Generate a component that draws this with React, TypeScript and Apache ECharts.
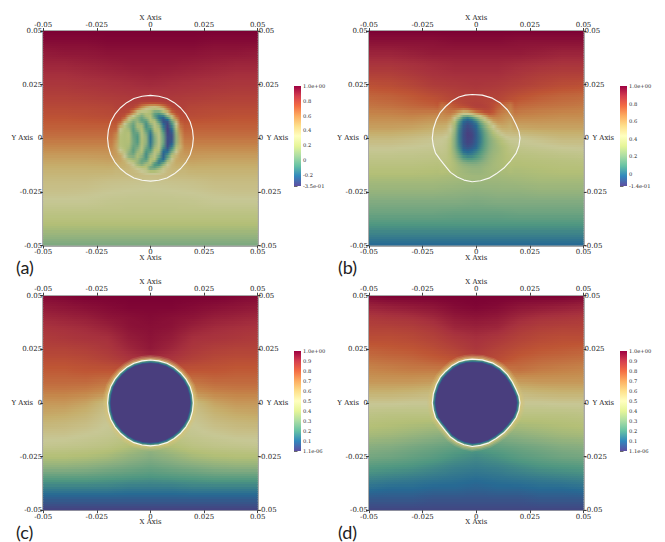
import React, { useEffect, useRef } from "react";
import * as echarts from "echarts";

const FONT = "DejaVu Serif";

// Spectral colour scale, bottom to top, as on the colour bars
const spectral = ["#5e4fa2", "#3288bd", "#66c2a5", "#abdda4", "#e6f598", "#ffffbf", "#fee08b", "#fdae61", "#f46d43", "#d53e4f", "#9e0142"];

// Axis ticks
const tickValues = [-0.05, -0.025, 0, 0.025, 0.05];
const tickLabels = ["-0.05", "-0.025", "0", "0.025", "0.05"];

// Coarse field nodes
const coarseX = [-0.05, -0.04, -0.03, -0.02, -0.01, 0, 0.01, 0.02, 0.03, 0.04, 0.05];
const coarseY = [0.05, 0.045, 0.04, 0.035, 0.03, 0.025, 0.02, 0.015, 0.01, 0.005, 0, -0.005, -0.01, -0.015, -0.02, -0.025, -0.03, -0.035, -0.04, -0.045, -0.05];
// Fine nodes around the drop, panels (a) and (b)
const fineX = [-0.018, -0.016, -0.014, -0.012, -0.01, -0.008, -0.006, -0.004, -0.002, 0, 0.002, 0.004, 0.006, 0.008, 0.01, 0.012, 0.014, 0.016, 0.018];
const fineY = [0.018, 0.016, 0.014, 0.012, 0.01, 0.008, 0.006, 0.004, 0.002, 0, -0.002, -0.004, -0.006, -0.008, -0.01, -0.012, -0.014, -0.016, -0.018];

const coarseA = [
  [1, 1, 1, 1, 1, 1, 1, 1, 1, 1, 1],
  [0.97, 0.97, 0.97, 0.98, 0.98, 0.98, 0.98, 0.98, 0.97, 0.97, 0.97],
  [0.93, 0.94, 0.94, 0.95, 0.95, 0.95, 0.95, 0.95, 0.94, 0.94, 0.93],
  [0.9, 0.9, 0.91, 0.92, 0.93, 0.93, 0.93, 0.92, 0.91, 0.9, 0.9],
  [0.87, 0.87, 0.88, 0.89, 0.9, 0.91, 0.9, 0.89, 0.88, 0.87, 0.87],
  [0.84, 0.84, 0.85, 0.86, 0.87, 0.88, 0.87, 0.86, 0.85, 0.84, 0.84],
  [0.81, 0.81, 0.82, 0.83, 0.84, 0.84, 0.84, 0.83, 0.82, 0.81, 0.81],
  [0.78, 0.78, 0.78, 0.79, 0.8, 0.8, 0.8, 0.79, 0.78, 0.78, 0.78],
  [0.74, 0.74, 0.75, 0.76, 0.77, 0.77, 0.77, 0.76, 0.75, 0.74, 0.74],
  [0.7, 0.7, 0.7, 0.7, 0.71, 0.71, 0.71, 0.7, 0.7, 0.7, 0.7],
  [0.65, 0.65, 0.65, 0.65, 0.65, 0.65, 0.65, 0.65, 0.65, 0.65, 0.65],
  [0.58, 0.58, 0.58, 0.58, 0.59, 0.59, 0.59, 0.58, 0.58, 0.58, 0.58],
  [0.5, 0.5, 0.5, 0.51, 0.51, 0.51, 0.51, 0.51, 0.5, 0.5, 0.5],
  [0.44, 0.44, 0.44, 0.44, 0.43, 0.42, 0.43, 0.44, 0.44, 0.44, 0.44],
  [0.39, 0.39, 0.39, 0.37, 0.36, 0.35, 0.36, 0.37, 0.39, 0.39, 0.39],
  [0.36, 0.36, 0.35, 0.33, 0.32, 0.31, 0.32, 0.33, 0.35, 0.36, 0.36],
  [0.31, 0.31, 0.31, 0.29, 0.28, 0.28, 0.28, 0.29, 0.31, 0.31, 0.31],
  [0.25, 0.25, 0.25, 0.25, 0.25, 0.25, 0.25, 0.25, 0.25, 0.25, 0.25],
  [0.19, 0.19, 0.19, 0.19, 0.19, 0.19, 0.19, 0.19, 0.19, 0.19, 0.19],
  [0.11, 0.11, 0.11, 0.11, 0.11, 0.11, 0.11, 0.11, 0.11, 0.11, 0.11],
  [0.03, 0.03, 0.03, 0.03, 0.03, 0.03, 0.03, 0.03, 0.03, 0.03, 0.03],
];

const fineA = [
  [0.82, 0.82, 0.82, 0.83, 0.83, 0.83, 0.83, 0.83, 0.83, 0.83, 0.83, 0.83, 0.83, 0.83, 0.83, 0.83, 0.82, 0.82, 0.82],
  [0.81, 0.81, 0.81, 0.81, 0.81, 0.81, 0.8, 0.74, 0.72, 0.7, 0.7, 0.72, 0.76, 0.8, 0.81, 0.81, 0.81, 0.81, 0.81],
  [0.8, 0.8, 0.8, 0.8, 0.8, 0.78, 0.7, 0.55, 0.4, 0.3, 0.28, 0.35, 0.5, 0.68, 0.78, 0.8, 0.8, 0.8, 0.8],
  [0.78, 0.78, 0.78, 0.78, 0.75, 0.58, 0.32, 0.15, 0.2, 0.15, -0.02, -0.05, 0.1, 0.4, 0.68, 0.76, 0.78, 0.78, 0.78],
  [0.77, 0.77, 0.77, 0.72, 0.45, 0.25, 0.08, 0, 0.15, 0.2, -0.05, -0.2, -0.22, -0.02, 0.3, 0.65, 0.76, 0.77, 0.77],
  [0.75, 0.75, 0.72, 0.5, 0.2, 0.05, 0.1, -0.05, -0.05, 0.2, 0.2, -0.1, -0.3, -0.28, 0, 0.45, 0.72, 0.75, 0.75],
  [0.72, 0.72, 0.55, 0.25, 0.08, -0.02, 0.18, 0.15, -0.12, 0.05, 0.25, 0.1, -0.2, -0.33, -0.12, 0.28, 0.66, 0.72, 0.72],
  [0.7, 0.68, 0.3, 0.18, 0.15, -0.06, 0.08, 0.2, -0.05, -0.12, 0.2, 0.2, -0.12, -0.35, -0.22, 0.15, 0.6, 0.7, 0.7],
  [0.67, 0.6, 0.22, 0.18, 0.2, -0.02, -0.05, 0.22, 0.05, -0.18, 0.1, 0.25, -0.03, -0.33, -0.28, 0.1, 0.56, 0.67, 0.67],
  [0.65, 0.58, 0.2, 0.18, 0.2, 0, -0.08, 0.2, 0.1, -0.2, 0.05, 0.25, 0, -0.3, -0.3, 0.08, 0.52, 0.65, 0.65],
  [0.62, 0.52, 0.2, 0.18, 0.18, 0.02, -0.06, 0.18, 0.08, -0.18, 0.05, 0.25, 0, -0.32, -0.25, 0.1, 0.5, 0.62, 0.62],
  [0.59, 0.5, 0.22, 0.18, 0.15, -0.02, 0.02, 0.22, 0.02, -0.15, 0.12, 0.25, -0.08, -0.3, -0.15, 0.18, 0.45, 0.59, 0.59],
  [0.56, 0.52, 0.35, 0.22, 0.1, -0.05, 0.1, 0.2, -0.08, -0.05, 0.22, 0.18, -0.2, -0.22, 0, 0.3, 0.5, 0.56, 0.56],
  [0.53, 0.53, 0.48, 0.3, 0.05, 0.02, 0.18, 0.1, -0.12, 0.1, 0.25, 0.05, -0.25, -0.1, 0.18, 0.42, 0.52, 0.53, 0.53],
  [0.5, 0.5, 0.5, 0.42, 0.22, 0.15, 0.12, -0.02, -0.05, 0.2, 0.18, -0.15, -0.2, 0.08, 0.35, 0.48, 0.5, 0.5, 0.5],
  [0.47, 0.47, 0.47, 0.46, 0.4, 0.3, 0.1, 0.02, 0.15, 0.18, -0.1, -0.15, 0.05, 0.3, 0.42, 0.47, 0.47, 0.47, 0.47],
  [0.44, 0.44, 0.44, 0.44, 0.43, 0.38, 0.3, 0.25, 0.22, -0.02, -0.02, 0.1, 0.28, 0.38, 0.43, 0.44, 0.44, 0.44, 0.44],
  [0.41, 0.41, 0.41, 0.41, 0.41, 0.41, 0.4, 0.36, 0.3, 0.25, 0.25, 0.3, 0.36, 0.4, 0.41, 0.41, 0.41, 0.41, 0.41],
  [0.39, 0.39, 0.39, 0.39, 0.39, 0.39, 0.39, 0.39, 0.39, 0.39, 0.39, 0.39, 0.39, 0.39, 0.39, 0.39, 0.39, 0.39, 0.39],
];

const coarseB = [
  [1, 1, 1, 1, 1, 1, 1, 1, 1, 1, 1],
  [0.96, 0.96, 0.96, 0.96, 0.97, 0.97, 0.97, 0.96, 0.96, 0.96, 0.96],
  [0.92, 0.92, 0.93, 0.94, 0.94, 0.94, 0.94, 0.94, 0.93, 0.92, 0.92],
  [0.88, 0.88, 0.89, 0.9, 0.91, 0.91, 0.91, 0.9, 0.89, 0.88, 0.88],
  [0.84, 0.84, 0.86, 0.88, 0.89, 0.89, 0.89, 0.87, 0.85, 0.84, 0.84],
  [0.79, 0.8, 0.82, 0.85, 0.86, 0.87, 0.86, 0.84, 0.82, 0.8, 0.79],
  [0.74, 0.75, 0.77, 0.8, 0.83, 0.84, 0.83, 0.79, 0.76, 0.74, 0.73],
  [0.7, 0.71, 0.73, 0.75, 0.8, 0.83, 0.8, 0.73, 0.71, 0.7, 0.69],
  [0.65, 0.65, 0.66, 0.64, 0.62, 0.62, 0.68, 0.66, 0.65, 0.64, 0.64],
  [0.59, 0.59, 0.58, 0.55, 0.5, 0.5, 0.55, 0.57, 0.58, 0.58, 0.58],
  [0.5, 0.5, 0.48, 0.45, 0.42, 0.42, 0.42, 0.44, 0.47, 0.5, 0.5],
  [0.43, 0.43, 0.42, 0.41, 0.38, 0.38, 0.38, 0.38, 0.4, 0.42, 0.43],
  [0.37, 0.37, 0.37, 0.36, 0.34, 0.34, 0.33, 0.33, 0.34, 0.35, 0.36],
  [0.33, 0.33, 0.33, 0.32, 0.3, 0.28, 0.29, 0.3, 0.31, 0.32, 0.32],
  [0.28, 0.28, 0.28, 0.28, 0.27, 0.26, 0.26, 0.27, 0.28, 0.28, 0.28],
  [0.24, 0.24, 0.24, 0.24, 0.23, 0.22, 0.23, 0.23, 0.24, 0.24, 0.24],
  [0.19, 0.19, 0.19, 0.19, 0.19, 0.18, 0.19, 0.19, 0.19, 0.19, 0.19],
  [0.15, 0.15, 0.15, 0.15, 0.14, 0.14, 0.14, 0.15, 0.15, 0.15, 0.15],
  [0.09, 0.09, 0.09, 0.09, 0.09, 0.09, 0.09, 0.09, 0.09, 0.09, 0.09],
  [0.03, 0.03, 0.03, 0.03, 0.03, 0.03, 0.03, 0.03, 0.03, 0.03, 0.03],
  [-0.03, -0.03, -0.03, -0.03, -0.03, -0.03, -0.03, -0.03, -0.03, -0.03, -0.03],
];

const fineB = [
  [0.72, 0.74, 0.76, 0.78, 0.8, 0.81, 0.82, 0.83, 0.83, 0.83, 0.83, 0.82, 0.81, 0.8, 0.78, 0.76, 0.74, 0.72, 0.7],
  [0.7, 0.72, 0.74, 0.76, 0.78, 0.8, 0.82, 0.83, 0.84, 0.84, 0.84, 0.83, 0.82, 0.8, 0.77, 0.74, 0.72, 0.7, 0.68],
  [0.68, 0.69, 0.71, 0.73, 0.75, 0.76, 0.76, 0.78, 0.81, 0.83, 0.83, 0.83, 0.82, 0.79, 0.75, 0.72, 0.7, 0.68, 0.66],
  [0.65, 0.66, 0.68, 0.69, 0.66, 0.58, 0.5, 0.52, 0.6, 0.68, 0.73, 0.78, 0.79, 0.76, 0.71, 0.68, 0.66, 0.65, 0.64],
  [0.62, 0.63, 0.64, 0.62, 0.5, 0.3, 0.1, 0.05, 0.12, 0.25, 0.38, 0.52, 0.66, 0.68, 0.67, 0.65, 0.63, 0.62, 0.6],
  [0.59, 0.6, 0.6, 0.55, 0.33, 0.12, -0.02, -0.06, -0.03, 0.05, 0.2, 0.33, 0.48, 0.6, 0.63, 0.62, 0.6, 0.58, 0.57],
  [0.56, 0.56, 0.55, 0.48, 0.28, 0.06, -0.06, -0.1, -0.07, -0.02, 0.1, 0.22, 0.34, 0.46, 0.56, 0.58, 0.57, 0.55, 0.54],
  [0.52, 0.52, 0.5, 0.42, 0.25, 0.03, -0.08, -0.12, -0.1, -0.05, 0.05, 0.16, 0.26, 0.36, 0.46, 0.52, 0.53, 0.52, 0.51],
  [0.49, 0.48, 0.46, 0.38, 0.22, 0.02, -0.09, -0.14, -0.12, -0.06, 0.03, 0.13, 0.22, 0.3, 0.37, 0.44, 0.48, 0.48, 0.48],
  [0.45, 0.44, 0.42, 0.35, 0.2, 0.02, -0.09, -0.13, -0.12, -0.06, 0.02, 0.12, 0.2, 0.26, 0.31, 0.36, 0.42, 0.44, 0.45],
  [0.43, 0.42, 0.4, 0.33, 0.2, 0.03, -0.08, -0.12, -0.1, -0.05, 0.03, 0.12, 0.19, 0.24, 0.28, 0.32, 0.36, 0.4, 0.42],
  [0.41, 0.41, 0.39, 0.32, 0.2, 0.05, -0.06, -0.09, -0.07, -0.03, 0.05, 0.13, 0.2, 0.24, 0.27, 0.3, 0.33, 0.37, 0.4],
  [0.4, 0.4, 0.38, 0.32, 0.22, 0.09, -0.02, -0.04, -0.02, 0.02, 0.08, 0.15, 0.21, 0.25, 0.27, 0.3, 0.33, 0.36, 0.38],
  [0.38, 0.38, 0.37, 0.32, 0.25, 0.15, 0.05, 0.02, 0.03, 0.07, 0.12, 0.18, 0.23, 0.26, 0.28, 0.3, 0.32, 0.34, 0.36],
  [0.37, 0.37, 0.36, 0.33, 0.28, 0.22, 0.15, 0.12, 0.12, 0.14, 0.17, 0.21, 0.25, 0.27, 0.29, 0.3, 0.32, 0.33, 0.34],
  [0.35, 0.35, 0.34, 0.33, 0.3, 0.26, 0.23, 0.21, 0.2, 0.2, 0.22, 0.24, 0.26, 0.28, 0.29, 0.3, 0.31, 0.32, 0.33],
  [0.33, 0.33, 0.33, 0.32, 0.3, 0.28, 0.26, 0.25, 0.24, 0.24, 0.24, 0.26, 0.27, 0.28, 0.29, 0.3, 0.3, 0.31, 0.31],
  [0.32, 0.32, 0.31, 0.31, 0.3, 0.28, 0.27, 0.26, 0.25, 0.25, 0.25, 0.26, 0.27, 0.28, 0.28, 0.29, 0.29, 0.3, 0.3],
  [0.3, 0.3, 0.3, 0.3, 0.29, 0.28, 0.27, 0.26, 0.25, 0.25, 0.25, 0.26, 0.26, 0.27, 0.27, 0.28, 0.28, 0.28, 0.29],
];

const coarseC = [
  [0.98, 0.99, 1, 1, 1, 1, 1, 1, 1, 0.99, 0.98],
  [0.95, 0.96, 0.97, 0.98, 0.99, 0.99, 0.99, 0.98, 0.97, 0.96, 0.95],
  [0.92, 0.93, 0.94, 0.96, 0.97, 0.98, 0.97, 0.96, 0.94, 0.93, 0.92],
  [0.89, 0.9, 0.91, 0.93, 0.96, 0.97, 0.96, 0.93, 0.91, 0.9, 0.89],
  [0.87, 0.88, 0.89, 0.9, 0.94, 0.96, 0.94, 0.9, 0.89, 0.88, 0.87],
  [0.85, 0.85, 0.86, 0.88, 0.92, 0.95, 0.92, 0.88, 0.86, 0.85, 0.85],
  [0.82, 0.82, 0.83, 0.85, 0.88, 0.9, 0.88, 0.85, 0.83, 0.82, 0.82],
  [0.79, 0.79, 0.8, 0.8, 0.8, 0.8, 0.8, 0.8, 0.8, 0.79, 0.79],
  [0.76, 0.76, 0.76, 0.74, 0.74, 0.74, 0.74, 0.74, 0.76, 0.76, 0.76],
  [0.72, 0.72, 0.71, 0.68, 0.68, 0.68, 0.68, 0.68, 0.71, 0.72, 0.72],
  [0.66, 0.66, 0.63, 0.55, 0.55, 0.55, 0.55, 0.55, 0.63, 0.66, 0.66],
  [0.62, 0.61, 0.58, 0.52, 0.52, 0.52, 0.52, 0.52, 0.58, 0.61, 0.62],
  [0.57, 0.56, 0.54, 0.5, 0.5, 0.5, 0.5, 0.5, 0.54, 0.56, 0.57],
  [0.52, 0.52, 0.5, 0.48, 0.45, 0.45, 0.45, 0.48, 0.5, 0.52, 0.52],
  [0.48, 0.47, 0.46, 0.44, 0.4, 0.35, 0.4, 0.44, 0.46, 0.47, 0.48],
  [0.4, 0.4, 0.39, 0.37, 0.33, 0.3, 0.33, 0.37, 0.39, 0.4, 0.4],
  [0.32, 0.32, 0.31, 0.29, 0.27, 0.25, 0.27, 0.29, 0.31, 0.32, 0.32],
  [0.22, 0.22, 0.22, 0.21, 0.2, 0.19, 0.2, 0.21, 0.22, 0.22, 0.22],
  [0.14, 0.14, 0.14, 0.14, 0.13, 0.13, 0.13, 0.14, 0.14, 0.14, 0.14],
  [0.07, 0.07, 0.07, 0.07, 0.07, 0.07, 0.07, 0.07, 0.07, 0.07, 0.07],
  [0.01, 0.01, 0.01, 0.01, 0.01, 0.01, 0.01, 0.01, 0.01, 0.01, 0.01],
];

const coarseD = [
  [0.99, 1, 1, 1, 1, 1, 1, 1, 1, 1, 0.99],
  [0.93, 0.94, 0.95, 0.96, 0.98, 0.99, 0.98, 0.96, 0.95, 0.94, 0.93],
  [0.88, 0.89, 0.9, 0.92, 0.95, 0.96, 0.95, 0.92, 0.9, 0.89, 0.88],
  [0.85, 0.85, 0.86, 0.88, 0.92, 0.93, 0.92, 0.88, 0.86, 0.85, 0.85],
  [0.82, 0.82, 0.83, 0.85, 0.88, 0.9, 0.88, 0.85, 0.83, 0.82, 0.82],
  [0.78, 0.79, 0.8, 0.82, 0.85, 0.88, 0.85, 0.82, 0.8, 0.79, 0.78],
  [0.74, 0.75, 0.76, 0.78, 0.8, 0.85, 0.82, 0.78, 0.76, 0.75, 0.74],
  [0.7, 0.71, 0.72, 0.72, 0.72, 0.72, 0.72, 0.74, 0.72, 0.71, 0.7],
  [0.66, 0.66, 0.66, 0.65, 0.65, 0.65, 0.65, 0.65, 0.66, 0.66, 0.66],
  [0.59, 0.59, 0.58, 0.56, 0.56, 0.56, 0.56, 0.56, 0.58, 0.59, 0.59],
  [0.51, 0.51, 0.5, 0.5, 0.5, 0.5, 0.5, 0.5, 0.5, 0.51, 0.51],
  [0.45, 0.44, 0.44, 0.44, 0.44, 0.44, 0.44, 0.44, 0.44, 0.44, 0.45],
  [0.41, 0.4, 0.39, 0.38, 0.38, 0.38, 0.38, 0.38, 0.39, 0.4, 0.41],
  [0.37, 0.36, 0.34, 0.32, 0.3, 0.3, 0.3, 0.32, 0.34, 0.36, 0.37],
  [0.31, 0.3, 0.28, 0.26, 0.24, 0.22, 0.24, 0.26, 0.28, 0.3, 0.31],
  [0.27, 0.26, 0.24, 0.22, 0.19, 0.17, 0.19, 0.22, 0.24, 0.26, 0.27],
  [0.21, 0.2, 0.19, 0.17, 0.15, 0.14, 0.15, 0.17, 0.19, 0.2, 0.21],
  [0.16, 0.15, 0.14, 0.13, 0.12, 0.11, 0.12, 0.13, 0.14, 0.15, 0.16],
  [0.11, 0.1, 0.1, 0.09, 0.09, 0.08, 0.09, 0.09, 0.1, 0.1, 0.11],
  [0.06, 0.06, 0.06, 0.05, 0.05, 0.05, 0.05, 0.05, 0.06, 0.06, 0.06],
  [0.02, 0.02, 0.02, 0.02, 0.02, 0.02, 0.02, 0.02, 0.02, 0.02, 0.02],
];

// White contours (x, y)
const roundContour = [
  [0.02, 0], [0.0196, 0.0039], [0.0185, 0.0077], [0.0166, 0.0111], [0.0141, 0.0141], [0.0111, 0.0166], [0.0077, 0.0185], [0.0039, 0.0196],
  [0, 0.02], [-0.0039, 0.0196], [-0.0077, 0.0185], [-0.0111, 0.0166], [-0.0141, 0.0141], [-0.0166, 0.0111], [-0.0185, 0.0077], [-0.0196, 0.0039],
  [-0.02, 0], [-0.0196, -0.0039], [-0.0185, -0.0077], [-0.0166, -0.0111], [-0.0141, -0.0141], [-0.0111, -0.0166], [-0.0077, -0.0185], [-0.0039, -0.0196],
  [0, -0.02], [0.0039, -0.0196], [0.0077, -0.0185], [0.0111, -0.0166], [0.0141, -0.0141], [0.0166, -0.0111], [0.0185, -0.0077], [0.0196, -0.0039],
  [0.02, 0],
];
const wobblyContour = [
  [0.0204, 0.0001], [0.0199, -0.0035], [0.0186, -0.0069], [0.016, -0.0105], [0.0129, -0.0139], [0.0093, -0.0166], [0.0059, -0.0186], [0.002, -0.0198],
  [-0.0019, -0.0203], [-0.0057, -0.0195], [-0.0089, -0.0181], [-0.012, -0.0159], [-0.0143, -0.0131], [-0.0168, -0.01], [-0.019, -0.0069], [-0.02, -0.0035],
  [-0.0205, 0], [-0.02, 0.0043], [-0.0186, 0.0086], [-0.0168, 0.012], [-0.0143, 0.0148], [-0.0112, 0.0175], [-0.0081, 0.0192], [-0.005, 0.0201],
  [-0.0019, 0.0204], [0.0028, 0.0201], [0.0075, 0.0187], [0.0113, 0.0164], [0.0145, 0.0133], [0.0168, 0.0099], [0.0186, 0.0063], [0.0199, 0.0032],
  [0.0204, 0.0001],
];

// Colour bars
const barTicksAB = [[1, 0.8, 0.6, 0.4, 0.2, 0, -0.2, -0.35], [1, 0.8, 0.6, 0.4, 0.2, 0, -0.14]];
const barLabelsAB = [["1.0e+00", "0.8", "0.6", "0.4", "0.2", "0", "-0.2", "-3.5e-01"], ["1.0e+00", "0.8", "0.6", "0.4", "0.2", "0", "-1.4e-01"]];
const barTicksCD = [1, 0.9, 0.8, 0.7, 0.6, 0.5, 0.4, 0.3, 0.2, 0.1, 0];
const barLabelsCD = ["1.0e+00", "0.9", "0.8", "0.7", "0.6", "0.5", "0.4", "0.3", "0.2", "0.1", "1.1e-06"];

const panelNames = ["(a)", "(b)", "(c)", "(d)"];
const panelMins = [-0.35, -0.14, 0, 0];
const panelContours = [roundContour, wobblyContour, roundContour, wobblyContour];
const panelCoarse = [coarseA, coarseB, coarseC, coarseD];
const panelFine = [fineA, fineB, null, null];
const panelDrop = [false, false, true, true];

// Layout
const plotLeft = [43.2, 369, 43.2, 369];
const plotTop = [31, 31, 295.7, 295.7];
const plotSize = 214.5;
const barLeft = [294, 620, 294, 620];
const barTop = [86, 86, 351, 351];
const nameX = [16, 338, 16, 338];
const nameY = [268, 268, 533, 533];

const DIM = 0.78;
const rgb = spectral.map((c) => [parseInt(c.slice(1, 3), 16), parseInt(c.slice(3, 5), 16), parseInt(c.slice(5, 7), 16)]);
function colourAt(t: number, k = DIM) {
  const s = Math.max(0, Math.min(0.9999, t)) * 10;
  const i = Math.floor(s);
  const f = s - i;
  const c = [0, 1, 2].map((n) => Math.round((rgb[i][n] + (rgb[i + 1][n] - rgb[i][n]) * f) * k));
  return `rgb(${c[0]},${c[1]},${c[2]})`;
}

function bilinear(xs: number[], ys: number[], g: number[][], x: number, y: number) {
  let i = 0;
  while (i < xs.length - 2 && x > xs[i + 1]) i++;
  let j = 0;
  while (j < ys.length - 2 && y < ys[j + 1]) j++;
  const u = Math.max(0, Math.min(1, (x - xs[i]) / (xs[i + 1] - xs[i])));
  const v = Math.max(0, Math.min(1, (y - ys[j]) / (ys[j + 1] - ys[j])));
  return (g[j][i] * (1 - u) + g[j][i + 1] * u) * (1 - v) + (g[j + 1][i] * (1 - u) + g[j + 1][i + 1] * u) * v;
}

function fieldValue(p: number, x: number, y: number) {
  const c = bilinear(coarseX, coarseY, panelCoarse[p], x, y);
  const f = panelFine[p];
  if (!f) return c;
  const w = Math.min(1, (0.018 - Math.abs(x)) / 0.002, (0.018 - Math.abs(y)) / 0.002);
  if (w <= 0) return c;
  return c * (1 - w) + bilinear(fineX, fineY, f, x, y) * w;
}

// Rendering bands: each one is painted from the tables above
const bands: number[][] = [];
for (let n = 0; n < 100; n++) bands.push([0.05 - n * 0.001, 0.05 - (n + 1) * 0.001]);
const stopXs: number[] = [-0.05, -0.045, -0.04, -0.035, -0.03, -0.025];
for (let n = -11; n <= 11; n++) stopXs.push(n * 0.002);
stopXs.push(0.025, 0.03, 0.035, 0.04, 0.045, 0.05);

function fieldSeries(p: number) {
  const lo = panelMins[p];
  return {
    type: "custom",
    xAxisIndex: p * 2,
    yAxisIndex: p * 2,
    silent: true,
    data: bands,
    renderItem: (_: any, api: any) => {
      const y0 = api.value(0);
      const y1 = api.value(1);
      const ym = (y0 + y1) / 2;
      const a = api.coord([-0.05, y0]);
      const b = api.coord([0.05, y1]);
      const colorStops = stopXs.map((x) => ({
        offset: (x + 0.05) / 0.1,
        color: colourAt((fieldValue(p, x, ym) - lo) / (1 - lo)),
      }));
      const top = Math.round(a[1]);
      const isLast = y1 < -0.0495;
      const bottom = isLast ? b[1] : Math.round(b[1]) + 1;
      return {
        type: "rect",
        shape: { x: a[0], y: top, width: b[0] - a[0], height: bottom - top },
        style: { fill: new echarts.graphic.LinearGradient(0, 0, 1, 0, colorStops), stroke: "none" },
      };
    },
  };
}

function dropSeries(p: number) {
  const contour = panelContours[p];
  const points = (api: any, k: number) => contour.map((q) => api.coord([q[0] * k, q[1] * k]));
  return {
    type: "custom",
    xAxisIndex: p * 2,
    yAxisIndex: p * 2,
    silent: true,
    data: [[0, 0]],
    renderItem: (_: any, api: any) => ({
      type: "group",
      children: [
        { type: "polygon", shape: { points: points(api, 1) }, style: { fill: "none", stroke: "rgba(214,196,120,0.2)", lineWidth: 10 } },
        { type: "polygon", shape: { points: points(api, 1) }, style: { fill: "none", stroke: "rgba(214,196,120,0.32)", lineWidth: 7 } },
        { type: "polygon", shape: { points: points(api, 1) }, style: { fill: "none", stroke: "rgba(214,196,120,0.55)", lineWidth: 4 } },
        { type: "polygon", shape: { points: points(api, 1) }, style: { fill: colourAt(0.28), stroke: "none" } },
        { type: "polygon", shape: { points: points(api, 0.975) }, style: { fill: colourAt(0.16), stroke: "none" } },
        { type: "polygon", shape: { points: points(api, 0.95) }, style: { fill: colourAt(0.07), stroke: "none" } },
        { type: "polygon", shape: { points: points(api, 0.93) }, style: { fill: colourAt(0), stroke: "none" } },
      ],
    }),
  };
}

function contourSeries(p: number) {
  return {
    type: "line",
    xAxisIndex: p * 2,
    yAxisIndex: p * 2,
    silent: true,
    symbol: "none",
    smooth: false,
    clip: false,
    lineStyle: { color: "#f8f8f4", width: 1.15 },
    data: panelContours[p],
  };
}

function barSeries(i: number) {
  const ax = 8 + i;
  const colorStops = spectral.map((_, n) => ({ offset: n / 10, color: spectral[10 - n] }));
  const lo = panelMins[i];
  return {
    type: "custom",
    xAxisIndex: ax,
    yAxisIndex: ax,
    silent: true,
    data: [[0, lo, 1]],
    renderItem: (_: any, api: any) => {
      const a = api.coord([0, 1]);
      const b = api.coord([1, api.value(1)]);
      return {
        type: "rect",
        shape: { x: a[0], y: a[1], width: b[0] - a[0], height: b[1] - a[1] },
        style: { fill: new echarts.graphic.LinearGradient(0, 0, 0, 1, colorStops), stroke: "none" },
      };
    },
  };
}

function tickText(v: number) {
  const k = tickValues.findIndex((t) => Math.abs(t - v) < 1e-6);
  return k >= 0 ? tickLabels[k] : "";
}

function buildOption() {
  const grid: any[] = [];
  const xAxis: any[] = [];
  const yAxis: any[] = [];
  const series: any[] = [];
  const base = {
    type: "value",
    min: -0.05,
    max: 0.05,
    interval: 0.025,
    splitLine: { show: false },
    axisLine: { show: true, onZero: false, lineStyle: { color: "#8c8c8c", width: 1.5 } },
    axisTick: { show: true, length: 3, lineStyle: { color: "#444", width: 1 } },
    nameLocation: "middle",
    nameMoveOverlap: false,
    nameTextStyle: { fontFamily: FONT, fontSize: 7, color: "#222" },
  };
  const label = (margin: number) => ({
    show: true,
    showMinLabel: true,
    showMaxLabel: true,
    hideOverlap: false,
    margin,
    fontFamily: FONT,
    fontSize: 7,
    color: "#222",
    formatter: tickText,
  });
  for (let p = 0; p < 4; p++) {
    grid.push({ left: plotLeft[p], top: plotTop[p], width: plotSize, height: plotSize, containLabel: false, outerBoundsMode: "none" });
    xAxis.push({ ...base, gridIndex: p, position: "bottom", name: "X Axis", nameGap: 8.5, axisLabel: label(3) });
    xAxis.push({ ...base, gridIndex: p, position: "top", name: "X Axis", nameGap: 10, axisLabel: label(3) });
    yAxis.push({ ...base, gridIndex: p, position: "left", name: "Y Axis", nameGap: 10, nameRotate: 0, axisLabel: label(1) });
    yAxis.push({ ...base, gridIndex: p, position: "right", name: "Y Axis", nameGap: 9, nameRotate: 0, axisLabel: label(1) });
  }
  for (let i = 0; i < 4; i++) {
    const ticks = i < 2 ? barTicksAB[i] : barTicksCD;
    const labels = i < 2 ? barLabelsAB[i] : barLabelsCD;
    grid.push({ left: barLeft[i], top: barTop[i], width: 7, height: 100, containLabel: false, outerBoundsMode: "none" });
    xAxis.push({ type: "value", gridIndex: 4 + i, min: 0, max: 1, show: false });
    yAxis.push({
      type: "value",
      gridIndex: 4 + i,
      position: "right",
      min: panelMins[i],
      max: 1,
      splitLine: { show: false },
      axisLine: { show: false },
      axisTick: { show: true, length: 3.5, customValues: ticks, lineStyle: { color: "#444", width: 0.8 } },
      axisLabel: {
        show: true,
        customValues: ticks,
        margin: 2,
        fontFamily: FONT,
        fontSize: 5.2,
        color: "#222",
        hideOverlap: false,
        formatter: (v: number) => {
          const k = ticks.findIndex((t) => Math.abs(t - v) < 1e-6);
          return k >= 0 ? labels[k] : "";
        },
      },
    });
  }
  for (let p = 0; p < 4; p++) {
    series.push(fieldSeries(p));
    if (panelDrop[p]) series.push(dropSeries(p));
    series.push(contourSeries(p));
  }
  return { grid, xAxis, yAxis, series };
}

export default function App() {
  const ref = useRef<HTMLDivElement>(null);
  useEffect(() => {
    document.body.style.margin = "0";
    const chart = echarts.init(ref.current!, null, { renderer: "svg" });
    const { grid, xAxis, yAxis, series } = buildOption();
    const barSeriesList = [0, 1, 2, 3].map((i) => barSeries(i));
    chart.setOption({
      animation: false,
      backgroundColor: "#ffffff",
      grid,
      xAxis,
      yAxis,
      series: [...series, ...barSeriesList],
      graphic: panelNames.map((t, i) => ({
        type: "text",
        left: nameX[i],
        top: nameY[i] - 10,
        style: { text: t, font: "18px Lato", fill: "#222" },
      })),
    });
    return () => chart.dispose();
  }, []);
  return <div ref={ref} style={{ position: "absolute", left: 0, top: 0, width: 665, height: 542 }} />;
}
